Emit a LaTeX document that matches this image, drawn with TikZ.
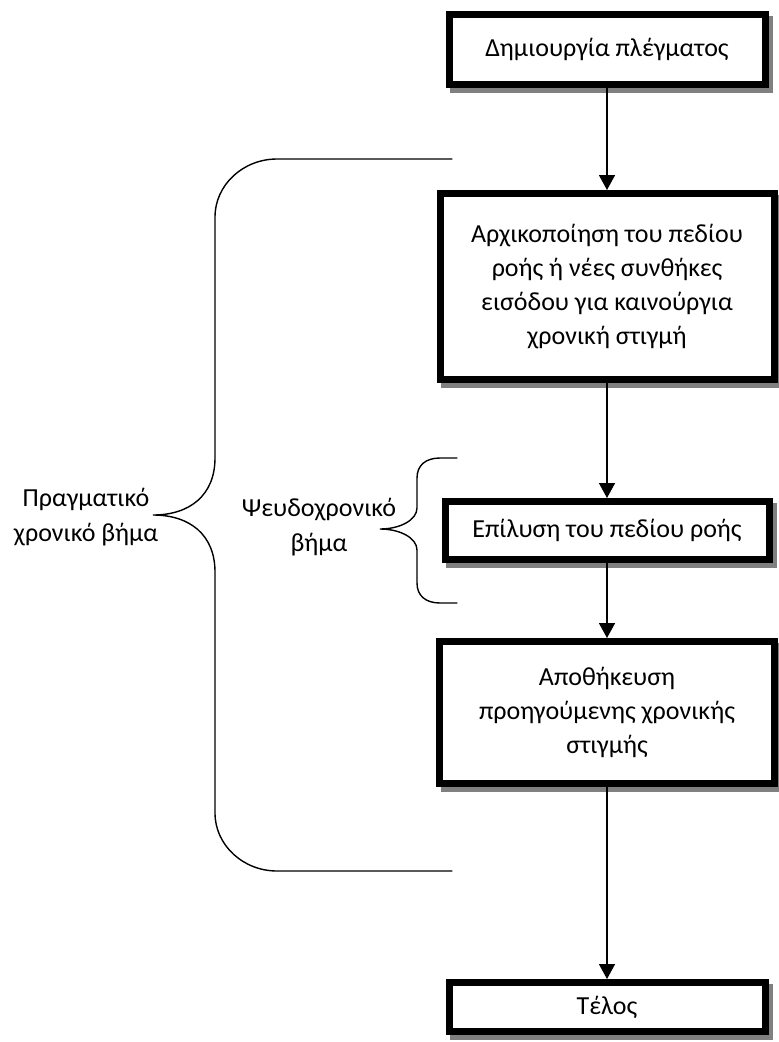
\documentclass[tikz,border=0pt]{standalone}
\usepackage{fontspec}
\setmainfont{Carlito}
\usetikzlibrary{arrows.meta,backgrounds}
\definecolor{shadowgray}{gray}{0.5}
\tikzset{
  flowbox/.style={draw=black, line width=7pt, fill=white, align=center, inner sep=0pt,
    font=\fontsize{26}{34}\selectfont},
  flowarrow/.style={line width=1.6pt, -{Triangle[width=16pt,length=15pt]}},
  bracepath/.style={line width=1.4pt, line cap=round},
  label/.style={align=center, font=\fontsize{26}{35}\selectfont, inner sep=0pt}
}
\newcommand{\boxshadow}[1]{%
  \begin{scope}[on background layer]
    \fill[shadowgray] ([shift={(4.5pt,-4.5pt)}]#1.south west) rectangle ([shift={(4.5pt,-4.5pt)}]#1.north east);
  \end{scope}}
\begin{document}
\begin{tikzpicture}[x=1pt,y=-1pt]
\useasboundingbox (0,0) rectangle (779,1042);

\node[flowbox, minimum width=316pt, minimum height=70pt] (b1) at (607,49.5) {Δημιουργία πλέγματος};
\node[flowbox, minimum width=334pt, minimum height=186pt] (b2) at (607,286.5)
  {Αρχικοποίηση του πεδίου\\ροής ή νέες συνθήκες\\εισόδου για καινούργια\\χρονική στιγμή};
\node[flowbox, minimum width=324pt, minimum height=58pt] (b3) at (607,530.5) {Επίλυση του πεδίου ροής};
\node[flowbox, minimum width=335pt, minimum height=142pt] (b4) at (607,712.5)
  {Αποθήκευση\\προηγούμενης χρονικής\\στιγμής};
\node[flowbox, minimum width=316pt, minimum height=49pt] (b5) at (607,1007) {Τέλος};

\boxshadow{b1}
\boxshadow{b2}
\boxshadow{b3}
\boxshadow{b4}
\boxshadow{b5}

\draw[flowarrow] (b1.south) -- (b2.north);
\draw[flowarrow] (b2.south) -- (b3.north);
\draw[flowarrow] (b3.south) -- (b4.north);
\draw[flowarrow] (b4.south) -- (b5.north);

% big brace
\coordinate (bigtop) at (452,159);
\coordinate (bigbot) at (452,871);
\coordinate (bigtip) at (153,515);
\draw[bracepath] (bigtop) -- (277,159) .. controls (243,159) and (215,185) .. (215,217)
  -- (215,458) .. controls (215,495) and (190,515) .. (bigtip)
  .. controls (190,515) and (215,535) .. (215,572)
  -- (215,813) .. controls (215,845) and (243,871) .. (277,871) -- (bigbot);
\node[label] (real) at (86,517) {Πραγματικό\\χρονικό βήμα};

% small brace
\coordinate (smtop) at (457,458);
\coordinate (smbot) at (457,603);
\coordinate (smtip) at (380,529);
\draw[bracepath] (smtop) -- (440,458) .. controls (426,458) and (417,465) .. (417,478)
  -- (417,508) .. controls (417,520) and (400,529) .. (smtip)
  .. controls (400,529) and (417,538) .. (417,550)
  -- (417,583) .. controls (417,596) and (426,603) .. (440,603) -- (smbot);
\node[label] (pseudo) at (319,527) {Ψευδοχρονικό\\βήμα};
\end{tikzpicture}
\end{document}
